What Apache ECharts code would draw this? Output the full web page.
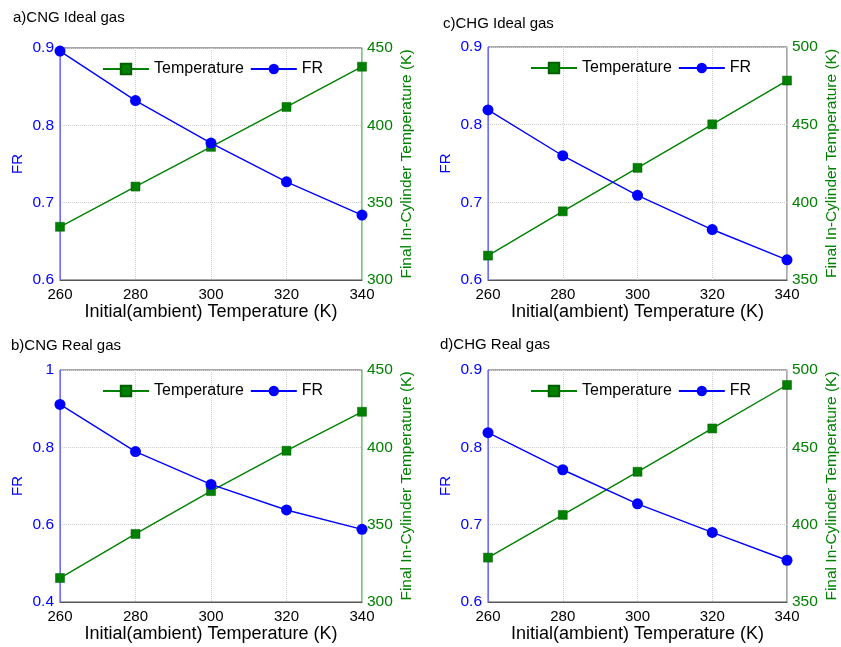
<!DOCTYPE html>
<html>
<head>
<meta charset="utf-8">
<script src="https://cdn.jsdelivr.net/npm/echarts@6/dist/echarts.min.js"></script>
<style>
  html, body { margin: 0; padding: 0; background: #fff; }
  #chart { width: 841px; height: 647px; }
</style>
</head>
<body>
<div id="chart"></div>
<script>
// Initial (ambient) temperature, K
const ambientTemps = [260, 280, 300, 320, 340];

// a) CNG, ideal gas
const frCngIdeal   = [0.896, 0.832, 0.777, 0.727, 0.684];
const tempCngIdeal = [334.4, 360.4, 386.1, 411.9, 437.9];

// b) CNG, real gas
const frCngReal   = [0.911, 0.789, 0.704, 0.638, 0.588];
const tempCngReal = [315.5, 344.0, 371.7, 397.8, 423.0];

// c) CHG, ideal gas
const frChgIdeal   = [0.819, 0.760, 0.709, 0.665, 0.626];
const tempChgIdeal = [365.7, 394.2, 422.2, 450.2, 478.4];

// d) CHG, real gas
const frChgReal   = [0.819, 0.771, 0.727, 0.690, 0.654];
const tempChgReal = [378.7, 406.3, 434.2, 462.2, 490.3];

// Axis ranges [min, max, interval]
const frRangeNarrow = [0.6, 0.9, 0.1];
const frRangeWide   = [0.4, 1.0, 0.2];
const tempRangeCng  = [300, 450, 50];
const tempRangeChg  = [350, 500, 50];

const panelTitles = ['a)CNG Ideal gas', 'b)CNG Real gas', 'c)CHG Ideal gas', 'd)CHG Real gas'];

const FONT = '"Liberation Sans", Arial, sans-serif';
const BLUE = '#0000ff';
const GREEN = '#008000';

const panels = [
  { title: panelTitles[0], fr: frCngIdeal, temp: tempCngIdeal, frR: frRangeNarrow, tR: tempRangeCng,
    grid: { left: 60, top: 48, width: 302, height: 232 }, titlePos: [13, 10], legendPos: [102, 61] },
  { title: panelTitles[1], fr: frCngReal, temp: tempCngReal, frR: frRangeWide, tR: tempRangeCng,
    grid: { left: 60, top: 370, width: 302, height: 232 }, titlePos: [11, 338], legendPos: [102, 383] },
  { title: panelTitles[2], fr: frChgIdeal, temp: tempChgIdeal, frR: frRangeNarrow, tR: tempRangeChg,
    grid: { left: 488, top: 47, width: 302, height: 233 }, titlePos: [443, 16], legendPos: [530, 60] },
  { title: panelTitles[3], fr: frChgReal, temp: tempChgReal, frR: frRangeNarrow, tR: tempRangeChg,
    grid: { left: 488, top: 370, width: 302, height: 232 }, titlePos: [440, 337], legendPos: [530, 383] }
];

const pairs = (ys) => ambientTemps.map((x, i) => [x, ys[i]]);

const option = {
  animation: false,
  backgroundColor: '#fff',
  textStyle: { fontFamily: FONT },
  title: [], grid: [], xAxis: [], yAxis: [], legend: [], series: []
};

panels.forEach((p, i) => {
  option.title.push({
    text: p.title, left: p.titlePos[0], top: p.titlePos[1], padding: 0,
    textStyle: { fontFamily: FONT, fontSize: 15, fontWeight: 'normal', color: '#000' }
  });

  option.grid.push(Object.assign({
    show: true, borderColor: '#555', borderWidth: 1, backgroundColor: 'transparent'
  }, p.grid));

  option.xAxis.push({
    type: 'value', gridIndex: i, min: 260, max: 340, interval: 20,
    name: 'Initial(ambient) Temperature (K)', nameLocation: 'middle', nameGap: 22,
    nameTextStyle: { fontFamily: FONT, fontSize: 18, color: '#000' },
    axisLine: { onZero: false, lineStyle: { color: '#555', width: 1 } },
    axisTick: { show: false },
    axisLabel: { fontFamily: FONT, fontSize: 15, color: '#000', margin: 7 },
    splitLine: { show: true, lineStyle: { color: '#cfcfcf', type: 'dotted', width: 1 } }
  });

  option.yAxis.push({
    type: 'value', gridIndex: i, position: 'left',
    min: p.frR[0], max: p.frR[1], interval: p.frR[2],
    name: 'FR', nameLocation: 'middle', nameGap: 35,
    nameTextStyle: { fontFamily: FONT, fontSize: 15, color: BLUE },
    axisLine: { show: true, onZero: false, lineStyle: { color: '#6f6fff', width: 1 } },
    axisTick: { show: false },
    axisLabel: { fontFamily: FONT, fontSize: 15.5, color: BLUE, margin: 6,
      formatter: (v) => (Math.round(v * 10) / 10).toString() },
    splitLine: { show: true, lineStyle: { color: '#cfcfcf', type: 'dotted', width: 1 } }
  });

  option.yAxis.push({
    type: 'value', gridIndex: i, position: 'right',
    min: p.tR[0], max: p.tR[1], interval: p.tR[2],
    name: 'Final In-Cylinder Temperature (K)', nameLocation: 'middle', nameGap: 37,
    nameTextStyle: { fontFamily: FONT, fontSize: 15.5, color: GREEN },
    axisLine: { show: true, onZero: false, lineStyle: { color: '#a6d8a6', width: 1 } },
    axisTick: { show: false },
    axisLabel: { fontFamily: FONT, fontSize: 15.5, color: GREEN, margin: 5 },
    splitLine: { show: false }
  });

  option.legend.push({
    left: p.legendPos[0], top: p.legendPos[1], padding: 0,
    orient: 'horizontal', itemWidth: 46, itemHeight: 13, itemGap: 6,
    data: ['Temperature', 'FR'],
    textStyle: { fontFamily: FONT, fontSize: 16, color: '#000' },
    selectedMode: false
  });

  option.series.push({
    name: 'Temperature', type: 'line', xAxisIndex: i, yAxisIndex: 2 * i + 1,
    data: pairs(p.temp), symbol: 'rect', symbolSize: 9,
    lineStyle: { color: GREEN, width: 1.4 },
    itemStyle: { color: GREEN, borderColor: '#006000', borderWidth: 0.5 },
    z: 3
  });

  option.series.push({
    name: 'FR', type: 'line', xAxisIndex: i, yAxisIndex: 2 * i,
    data: pairs(p.fr), symbol: 'circle', symbolSize: 11,
    lineStyle: { color: BLUE, width: 1.4 },
    itemStyle: { color: BLUE },
    z: 4
  });
});

const chart = echarts.init(document.getElementById('chart'), null, { renderer: 'canvas' });
chart.setOption(option);
</script>
</body>
</html>
